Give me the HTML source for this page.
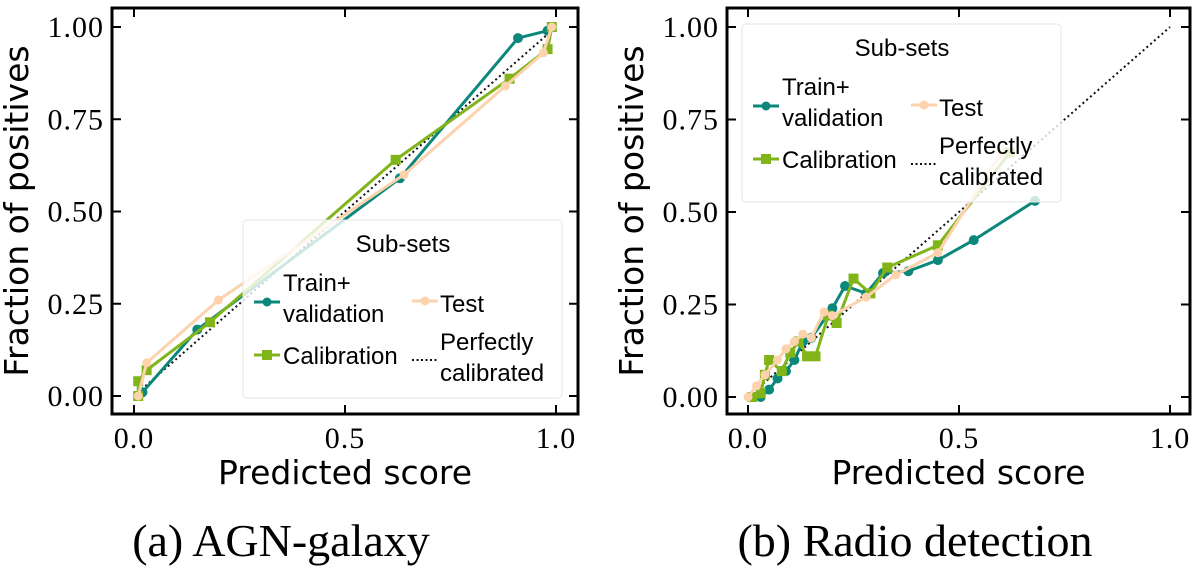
<!DOCTYPE html>
<html><head><meta charset="utf-8"><style>
body{margin:0;background:#fff}
svg text{font-family:"DejaVu Sans","Liberation Sans",sans-serif}
.tk{font-family:"Liberation Serif",serif;font-size:30px;letter-spacing:1px}
.lg{font-family:"Liberation Sans",sans-serif !important;font-size:24px}
</style></head><body>
<svg id="s" width="1200" height="567" viewBox="0 0 1200 567" xmlns="http://www.w3.org/2000/svg"></svg>
<script>
// Panel A data
const aTrainX=[0.02,0.15,0.63,0.91,0.98];
const aTrainY=[0.01,0.18,0.59,0.97,0.99];
const aCalX=[0.01,0.01,0.03,0.18,0.62,0.89,0.98,0.99];
const aCalY=[0.0,0.04,0.07,0.20,0.64,0.86,0.94,1.0];
const aTestX=[0.01,0.03,0.20,0.64,0.88,0.97,0.99];
const aTestY=[0.0,0.09,0.26,0.60,0.84,0.93,1.0];
// Panel B data
const bTrainX=[0.03,0.05,0.07,0.09,0.11,0.13,0.15,0.20,0.23,0.28,0.32,0.38,0.45,0.535,0.68];
const bTrainY=[0.0,0.02,0.05,0.07,0.10,0.15,0.16,0.24,0.30,0.28,0.335,0.34,0.37,0.424,0.53];
const bCalX=[0.01,0.03,0.04,0.05,0.08,0.10,0.12,0.14,0.16,0.19,0.21,0.25,0.29,0.33,0.45,0.62];
const bCalY=[0.0,0.01,0.06,0.10,0.07,0.12,0.15,0.11,0.11,0.22,0.20,0.32,0.28,0.35,0.41,0.66];
const bTestX=[0.0,0.02,0.04,0.07,0.09,0.11,0.13,0.15,0.18,0.20,0.28,0.35,0.45,0.60];
const bTestY=[0.0,0.03,0.06,0.10,0.13,0.15,0.17,0.16,0.23,0.22,0.27,0.33,0.39,0.66];
const xTicks=[0,0.5,1.0];
const xTickLabels=["0.0","0.5","1.0"];
const yTicks=[0,0.25,0.5,0.75,1.0];
const yTickLabels=["0.00","0.25","0.50","0.75","1.00"];

const NS="http://www.w3.org/2000/svg";
const svg=document.getElementById('s');
function mk(tag,attrs,parent,text){const e=document.createElementNS(NS,tag);for(const k in attrs)e.setAttribute(k,attrs[k]);if(text!==undefined)e.textContent=text;(parent||svg).appendChild(e);return e;}
const TEAL="#0b877b",GREEN="#80b419",PEACH="#fcd3ad";

function panel(id,box,x0,x1,y0,y1,series,leg,caption,capX){
  const g=mk('g',{});
  
  
  const sx=v=>x0+(x1-x0)*v, sy=v=>y0+(y1-y0)*v;
  const [L,T,R,B]=box;
  const d=mk('line',{x1:sx(0),y1:sy(0),x2:sx(1),y2:sy(1),stroke:'#111','stroke-width':2,'stroke-dasharray':'2 3'},g);
  
  
  series.forEach(s=>{
    const pts=s.x.map((v,i)=>sx(v)+','+sy(s.y[i])).join(' ');
    const pl=mk('polyline',{points:pts,fill:'none',stroke:s.c,'stroke-width':3},g);
    
    
    s.x.forEach((v,i)=>{
      let m;
      if(s.m==='s') m=mk('rect',{x:sx(v)-5,y:sy(s.y[i])-5,width:10,height:10,fill:s.c},g);
      else if(s.m==='p') m=mk('circle',{cx:sx(v),cy:sy(s.y[i]),r:4.5,fill:s.c},g);
      else m=mk('circle',{cx:sx(v),cy:sy(s.y[i]),r:5,fill:s.c},g);
      
      
    });
  });
  const fr=mk('rect',{x:L,y:T,width:R-L,height:B-T,fill:'none',stroke:'#000','stroke-width':3},g);
  
  
  xTicks.forEach((v,i)=>{
    mk('line',{x1:sx(v),y1:B,x2:sx(v),y2:B-9,stroke:'#000','stroke-width':2},g);
    mk('line',{x1:sx(v),y1:T,x2:sx(v),y2:T+9,stroke:'#000','stroke-width':2},g);
    const t=mk('text',{x:sx(v),y:B+34,'text-anchor':'middle',class:'tk'},g,xTickLabels[i]);
    
    
  });
  yTicks.forEach((v,i)=>{
    mk('line',{x1:L,y1:sy(v),x2:L+9,y2:sy(v),stroke:'#000','stroke-width':2},g);
    mk('line',{x1:R,y1:sy(v),x2:R-9,y2:sy(v),stroke:'#000','stroke-width':2},g);
    const t=mk('text',{x:L-8,y:sy(v)+10,'text-anchor':'end',class:'tk'},g,yTickLabels[i]);
    
    
  });
  const xl=mk('text',{x:(L+R)/2,y:B+70,'text-anchor':'middle','font-size':33},g,'Predicted score');
  
  
  const yl=mk('text',{x:0,y:0,'text-anchor':'middle','font-size':33,transform:`translate(${L-84},${(T+B)/2}) rotate(-90)`},g,'Fraction of positives');
  
  
  const cp=mk('text',{x:capX,y:556,'text-anchor':'middle','font-size':46,style:'font-family:"Liberation Serif",serif'},g,caption);
  
  
  const [lx,ly]=leg;
  const lg=mk('g',{transform:`translate(${lx},${ly})`},g);
  
  
  mk('rect',{x:0,y:0,width:319,height:178,rx:4,fill:'rgba(255,255,255,0.8)',stroke:'#e6e6e6','stroke-width':1},lg);
  mk('text',{x:160,y:32,'text-anchor':'middle',class:'lg'},lg,'Sub-sets');
  function entry(hx,hy,c,m,name){
    const e=mk('g',{},lg);
    
    
    if(m==='dot') mk('line',{x1:hx,y1:hy,x2:hx+26,y2:hy,stroke:'#111','stroke-width':2,'stroke-dasharray':'2 2.5'},e);
    else{
      mk('line',{x1:hx,y1:hy,x2:hx+26,y2:hy,stroke:c,'stroke-width':3},e);
      if(m==='s') mk('rect',{x:hx+8,y:hy-5,width:10,height:10,fill:c},e);
      else mk('circle',{cx:hx+13,cy:hy,r:4.5,fill:c},e);
    }
    return e;
  }
  const e1=entry(11,82,TEAL,'o','train');
  mk('text',{x:40,y:71,class:'lg'},e1,'Train+');
  mk('text',{x:40,y:102,class:'lg'},e1,'validation');
  const e2=entry(169,81,PEACH,'p','test');
  mk('text',{x:197,y:92,class:'lg'},e2,'Test');
  const e3=entry(11,135,GREEN,'s','calibration');
  mk('text',{x:40,y:144,class:'lg'},e3,'Calibration');
  const e4=entry(169,140,'#111','dot','perfect');
  mk('text',{x:197,y:130,class:'lg'},e4,'Perfectly');
  mk('text',{x:197,y:161,class:'lg'},e4,'calibrated');
}
panel('panel-agn-galaxy',[112,8,578,414],134,556,396,27,
  [{x:aTrainX,y:aTrainY,c:TEAL,m:'o',n:'train-validation'},
   {x:aCalX,y:aCalY,c:GREEN,m:'s',n:'calibration'},
   {x:aTestX,y:aTestY,c:PEACH,m:'p',n:'test'}],
  [243,220],'(a) AGN-galaxy',281);
panel('panel-radio-detection',[727,8,1190,414],748,1170,397,27,
  [{x:bTrainX,y:bTrainY,c:TEAL,m:'o',n:'train-validation'},
   {x:bCalX,y:bCalY,c:GREEN,m:'s',n:'calibration'},
   {x:bTestX,y:bTestY,c:PEACH,m:'p',n:'test'}],
  [742,24],'(b) Radio detection',915);
</script>
</body></html>
